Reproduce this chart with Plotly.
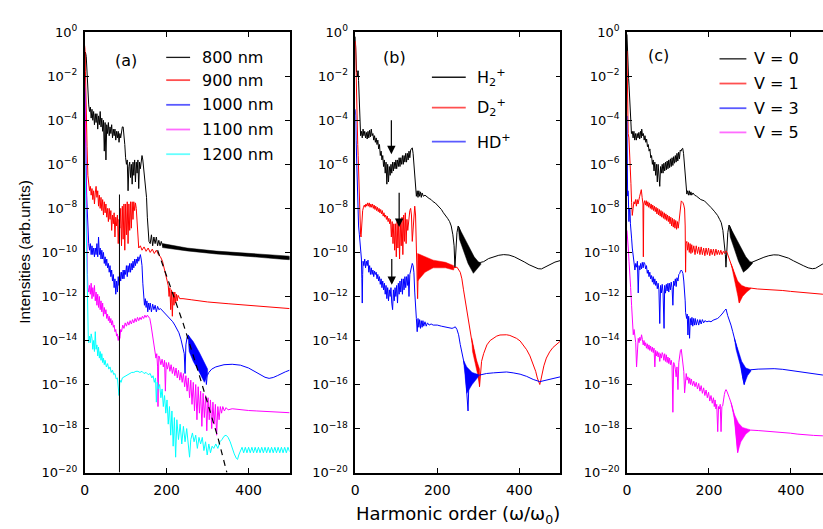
import plotly.graph_objects as go

# ---------------------------------------------------------------------------
# Harmonic spectra, stored as (harmonic order, log10 intensity) pairs
# ---------------------------------------------------------------------------

# ----- panel (a): wavelength dependence -----
A_800 = [(0,-1.6),(2,-0.9),(4,-1.1),(6,-1.9),(8,-2.8),(10,-3.3),(12,-3.6),(14,-3.4),(16,-3.9),(18,-3.5),
         (20,-4.0),(22,-3.6),(24,-4.2),(26,-3.7),(28,-4.1),(30,-3.7),(32,-4.4),(34,-3.8),(36,-4.2),(38,-3.6),
         (40,-4.3),(42,-3.9),(44,-4.5),(46,-4.0),(48,-5.4),(50,-4.1),(52,-5.8),(54,-4.2),(56,-4.6),(58,-4.1),
         (60,-4.7),(62,-4.3),(64,-4.6),(66,-4.2),(68,-4.8),(70,-4.4),(72,-4.7),(74,-4.4),(76,-4.9),(78,-4.5),
         (80,-4.8),(82,-4.5),(84,-5.0),(86,-4.6),(88,-4.8),(90,-4.4),(92,-4.3),(94,-4.3),(96,-4.6),(98,-5.1),
         (100,-5.7),(102,-6.0),(104,-5.8),(106,-7.2),(108,-6.1),(110,-5.9),(112,-6.6),(114,-6.0),(116,-6.9),
         (118,-5.9),(120,-6.5),(122,-5.8),(124,-6.8),(126,-5.9),(128,-6.4),(130,-5.8),(132,-7.1),(134,-5.9),
         (136,-6.2),(138,-5.7),(140,-5.6),(142,-5.8),(145,-6.3),(148,-6.9),(151,-7.5),(153,-8.4),(155,-9.1),
         (157,-9.5),(160,-9.6),(163,-9.2),(166,-9.7),(169,-9.3),(172,-9.6),(175,-9.3),(178,-9.7),(181,-9.45),
         (184,-9.7),(187,-9.5),(190,-9.7),(195,-9.7),(250,-9.86),(321,-10.0),(400,-10.12),(482,-10.24),(500,-10.26)]
A_800_UP = [(190,-9.6),(250,-9.8),(321,-9.94),(400,-10.05),(482,-10.15),(500,-10.17)]
A_800_LO = [(190,-9.78),(250,-9.93),(321,-10.07),(400,-10.18),(482,-10.31),(500,-10.33)]

A_900 = [(0,-0.6),(1,-0.8),(2,-1.8),(3,-3.2),(4,-4.2),(5,-4.4),(6,-5.2),(8,-6.5),(10,-7.1),(12,-7.2),(14,-7.0),
         (16,-7.4),(18,-7.1),(20,-7.6),(22,-7.2),(24,-7.8),(26,-7.3),(28,-7.0),(30,-7.5),(32,-7.2),(34,-7.9),
         (36,-7.4),(38,-8.0),(40,-7.5),(42,-8.1),(44,-7.6),(46,-8.3),(48,-7.7),(50,-8.2),(52,-7.8),(54,-8.4),
         (56,-8.0),(58,-8.6),(60,-8.0),(62,-8.5),(64,-8.1),(66,-9.0),(68,-8.3),(70,-8.7),(72,-8.2),(74,-9.3),
         (76,-8.4),(78,-8.8),(80,-8.3),(82,-9.6),(84,-8.5),(86,-8.9),(88,-8.0),(90,-9.7),(92,-7.9),(94,-9.4),
         (96,-7.8),(98,-9.9),(100,-7.8),(102,-9.2),(104,-7.7),(106,-9.6),(108,-7.8),(110,-9.0),(112,-7.7),
         (114,-8.9),(116,-7.7),(118,-8.5),(120,-7.7),(122,-8.1),(124,-7.75),(126,-8.0),(128,-8.6),(130,-9.4),
         (132,-9.8),(136,-9.7),(140,-9.9),(145,-9.75),(150,-9.95),(155,-9.8),(160,-10.0),(165,-9.85),(170,-10.05),
         (175,-9.9),(180,-10.1),(185,-10.2),(190,-10.4),(195,-10.8),(200,-11.2),(204,-11.5),(206,-12.0),
         (208,-11.6),(210,-12.6),(212,-11.7),(214,-12.9),(216,-11.8),(218,-12.4),(220,-11.8),(222,-12.3),
         (224,-11.9),(226,-12.2),(228,-11.95),(232,-12.1),(240,-12.1),(260,-12.15),(300,-12.25),(350,-12.33),
         (400,-12.4),(450,-12.48),(500,-12.55)]

A_1000 = [(0,-2.5),(1,-2.9),(2,-4.5),(3,-6.3),(4,-6.8),(5,-7.4),(6,-7.9),(7,-8.6),(8,-9.3),(10,-9.6),(12,-9.9),
          (14,-9.6),(16,-10.1),(18,-9.7),(20,-10.1),(22,-9.8),(24,-10.2),(26,-9.8),(28,-10.1),(30,-9.6),(32,-10.2),
          (34,-9.3),(36,-10.1),(38,-9.8),(40,-10.3),(42,-9.9),(44,-10.3),(46,-10.0),(48,-10.5),(50,-10.2),
          (52,-10.6),(54,-10.3),(56,-10.7),(58,-10.5),(60,-10.9),(62,-10.6),(64,-11.1),(66,-10.8),(68,-11.3),
          (70,-11.0),(72,-11.6),(74,-11.2),(76,-11.9),(78,-11.3),(80,-11.8),(82,-11.1),(84,-11.5),(86,-10.9),
          (88,-11.3),(90,-10.9),(92,-11.2),(94,-10.8),(96,-11.2),(98,-10.8),(100,-11.0),(102,-10.6),(104,-11.1),
          (106,-10.6),(108,-10.9),(110,-10.5),(112,-10.9),(114,-10.5),(116,-10.8),(118,-10.4),(120,-10.7),
          (122,-10.3),(124,-10.6),(126,-10.3),(128,-10.5),(130,-10.2),(132,-10.4),(134,-10.2),(136,-10.1),
          (138,-10.3),(140,-10.6),(142,-11.4),(144,-12.1),(146,-12.4),(148,-12.1),(150,-12.5),(152,-12.2),
          (154,-12.7),(156,-12.3),(158,-12.6),(160,-12.3),(163,-12.7),(166,-12.35),(169,-12.6),(172,-12.4),
          (175,-12.7),(178,-12.45),(181,-12.6),(185,-12.55),(190,-12.65),(195,-12.75),(200,-12.85),(205,-12.95),
          (210,-13.05),(215,-13.15),(220,-13.3),(225,-13.45),(230,-13.65),(235,-13.95),(240,-14.3),(243,-14.6),
          (245,-15.5),(247,-14.2),(250,-13.85),(253,-13.75),(256,-13.9),(260,-14.1),(270,-14.5),(280,-14.8),
          (290,-15.2),(295,-15.5),(297,-16.0),(299,-15.6),(303,-15.45),(310,-15.3),(320,-15.2),(340,-15.1),
          (360,-15.08),(380,-15.12),(400,-15.25),(420,-15.45),(440,-15.67),(450,-15.72),(460,-15.68),(470,-15.6),
          (480,-15.5),(490,-15.42),(500,-15.35)]
A_1000_UP = [(252,-13.74),(265,-14.05),(280,-14.55),(292,-15.0),(300,-15.3)]
A_1000_LO = [(255,-14.5),(265,-14.95),(280,-15.45),(292,-15.9),(300,-15.55)]

A_1100 = [(0,-2.0),(1,-2.7),(2,-4.0),(3,-6.0),(4,-8.0),(5,-9.3),(6,-10.2),(7,-11.0),(8,-11.6),(10,-11.8),
          (12,-11.5),(14,-11.9),(16,-11.4),(18,-12.1),(20,-11.6),(22,-12.0),(24,-11.5),(26,-12.2),(28,-11.8),
          (30,-12.4),(32,-11.9),(34,-12.5),(36,-12.0),(38,-12.6),(40,-12.2),(42,-12.7),(44,-12.3),(46,-12.9),
          (48,-12.5),(50,-12.8),(52,-12.6),(54,-13.0),(56,-12.8),(58,-13.1),(60,-12.9),(62,-13.2),(64,-13.0),
          (66,-13.3),(68,-13.1),(70,-13.4),(72,-13.3),(74,-13.6),(76,-13.5),(78,-13.8),(80,-13.7),(82,-14.0),
          (84,-13.8),(86,-13.9),(88,-13.5),(90,-13.6),(93,-13.3),(96,-13.45),(99,-13.2),(102,-13.35),(105,-13.15),
          (108,-13.3),(111,-13.1),(114,-13.25),(117,-13.05),(120,-13.2),(123,-13.0),(126,-13.15),(129,-12.95),
          (132,-13.1),(135,-12.95),(138,-13.05),(141,-12.9),(144,-13.0),(147,-12.85),(150,-12.95),(153,-12.85),
          (156,-12.95),(159,-13.0),(162,-13.3),(165,-13.7),(168,-14.0),(171,-14.5),(174,-14.8),(176,-14.6),
          (178,-15.2),(179,-17.0),(181,-14.7),(183,-14.8),(186,-15.1),(189,-14.85),(192,-15.2),(195,-14.9),
          (197,-16.3),(199,-15.0),(202,-15.3),(205,-15.0),(208,-15.4),(211,-15.1),(214,-15.5),(217,-15.2),
          (220,-15.6),(223,-15.25),(226,-15.7),(229,-15.35),(232,-15.8),(235,-15.45),(238,-15.9),(241,-15.5),
          (244,-16.1),(247,-15.6),(250,-16.3),(253,-15.7),(256,-16.6),(259,-15.8),(262,-16.9),(265,-15.9),
          (268,-17.2),(271,-16.0),(274,-17.6),(277,-16.1),(280,-17.3),(283,-16.3),(286,-17.9),(289,-16.4),
          (292,-17.5),(295,-16.5),(298,-18.1),(301,-16.6),(304,-17.6),(307,-16.7),(310,-18.0),(313,-16.8),
          (316,-17.8),(319,-16.9),(322,-18.3),(325,-17.0),(328,-17.6),(331,-17.0),(334,-17.3),(337,-17.0),
          (341,-17.2),(345,-17.05),(350,-17.15),(360,-17.1),(380,-17.15),(400,-17.18),(420,-17.2),(440,-17.22),
          (460,-17.24),(480,-17.26),(500,-17.28)]

A_1200 = [(0,-5.0),(1,-6.0),(2,-7.8),(3,-9.2),(4,-10.2),(5,-11.0),(6,-12.0),(7,-12.8),(8,-13.5),(9,-13.9),
          (10,-14.1),(12,-13.8),(14,-14.1),(16,-13.7),(18,-13.9),(20,-14.4),(22,-14.0),(24,-14.5),(26,-13.6),
          (28,-14.4),(30,-14.2),(32,-14.7),(34,-14.3),(36,-14.8),(38,-14.5),(40,-14.9),(42,-14.6),(44,-15.0),
          (46,-14.8),(48,-15.1),(50,-14.9),(53,-15.2),(56,-15.05),(59,-15.3),(62,-15.2),(65,-15.45),(68,-15.35),
          (71,-15.55),(74,-15.5),(77,-15.75),(80,-15.7),(82,-16.0),(84,-16.5),(86,-15.8),(89,-15.9),(92,-15.7),
          (96,-15.65),(100,-15.6),(105,-15.55),(110,-15.5),(115,-15.45),(120,-15.45),(125,-15.4),(130,-15.4),
          (135,-15.45),(140,-15.4),(145,-15.5),(150,-15.45),(155,-15.55),(160,-15.5),(164,-15.7),(167,-15.6),
          (170,-15.9),(173,-15.7),(175,-16.8),(177,-15.9),(180,-16.2),(183,-16.0),(186,-16.6),(189,-16.2),
          (192,-17.0),(195,-16.5),(198,-17.3),(201,-16.7),(204,-17.8),(207,-17.0),(210,-18.3),(213,-17.2),
          (216,-18.8),(219,-17.5),(222,-19.3),(225,-17.6),(229,-18.5),(233,-17.8),(237,-18.7),(241,-17.9),
          (245,-18.6),(249,-18.0),(253,-18.9),(256,-19.3),(259,-18.5),(263,-18.2),(267,-18.6),(271,-18.3),
          (275,-18.9),(279,-18.4),(283,-18.7),(287,-18.4),(291,-19.0),(295,-18.6),(299,-19.2),(303,-18.7),
          (307,-19.1),(311,-18.8),(315,-18.9),(320,-18.7),(325,-18.9),(330,-18.6),(335,-18.5),(340,-18.35),
          (345,-18.3),(350,-18.4),(355,-18.6),(360,-18.9),(365,-19.15),(370,-19.35),(373,-19.4),(376,-19.2),
          (380,-19.0),(384,-18.85),(388,-19.1),(392,-18.85),(396,-19.1),(400,-18.85),(404,-19.1),(408,-18.85),
          (412,-19.1),(416,-18.85),(420,-19.1),(424,-18.85),(428,-19.1),(432,-18.85),(436,-19.1),(440,-18.85),
          (444,-19.1),(448,-18.85),(452,-19.1),(456,-18.85),(460,-19.1),(464,-18.85),(468,-19.1),(472,-18.85),
          (476,-19.1),(480,-18.85),(484,-19.1),(488,-18.85),(492,-19.1),(496,-18.85),(500,-19.05)]

A_VLINE = [(85,-7.37),(85,-20.0)]
A_DASH = [(178,-9.9),(205,-11.3),(240,-13.2),(272,-15.1),(300,-16.8),(325,-18.4),(347,-20.0)]

# ----- panel (b): isotope dependence -----
B_H2 = [(0,-0.2),(1,-0.9),(2,-1.6),(3,-1.8),(4,-1.75),(5,-2.0),(6,-1.9),(7,-1.75),(8,-2.2),(9,-2.9),(10,-3.5),
        (11,-4.0),(12,-4.4),(13,-4.7),(15,-4.5),(17,-4.8),(19,-4.4),(21,-4.7),(23,-4.5),(25,-4.8),(27,-4.55),
        (29,-4.85),(31,-4.5),(33,-4.8),(35,-4.45),(37,-4.75),(39,-4.4),(41,-4.7),(43,-4.6),(45,-4.9),(47,-4.7),
        (49,-5.0),(51,-4.8),(53,-5.1),(55,-4.9),(57,-5.3),(59,-5.1),(61,-5.6),(63,-5.4),(65,-5.8),(67,-5.6),
        (69,-6.1),(71,-5.8),(73,-6.4),(75,-5.9),(77,-6.9),(79,-6.0),(81,-6.8),(83,-6.1),(85,-6.5),(87,-6.0),
        (89,-6.4),(91,-5.9),(93,-6.3),(95,-5.9),(97,-6.2),(99,-5.8),(101,-6.2),(103,-5.8),(105,-6.1),(107,-5.7),
        (109,-6.1),(111,-5.7),(113,-6.0),(115,-5.6),(117,-6.0),(119,-5.6),(121,-5.9),(123,-5.5),(125,-5.9),
        (127,-5.5),(129,-5.8),(131,-5.4),(133,-5.7),(135,-5.35),(137,-5.3),(139,-5.25),(141,-5.5),(143,-6.1),
        (145,-6.7),(147,-7.3),(149,-7.45),(151,-7.2),(153,-7.5),(155,-7.2),(157,-7.45),(159,-7.25),(161,-7.5),
        (163,-7.3),(166,-7.45),(170,-7.4),(175,-7.5),(180,-7.55),(185,-7.6),(190,-7.7),(195,-7.75),(200,-7.85),
        (205,-7.95),(210,-8.05),(215,-8.2),(220,-8.3),(225,-8.45),(230,-8.6),(234,-8.8),(238,-9.2),(241,-9.7),
        (243,-10.7),(245,-9.8),(248,-9.1),(251,-8.8),(254,-8.9),(260,-9.4),(270,-9.8),(280,-10.2),(288,-10.6),
        (295,-10.6),(300,-10.5),(306,-10.45),(313,-10.42),(325,-10.28),(337,-10.2),(350,-10.13),(362,-10.1),
        (375,-10.12),(388,-10.2),(400,-10.3),(412,-10.43),(424,-10.56),(436,-10.67),(446,-10.74),(454,-10.75),
        (462,-10.68),(474,-10.55),(487,-10.44),(500,-10.37)]
B_H2_UP = [(251,-8.8),(264,-9.25),(280,-9.8),(290,-10.2),(300,-10.42),(306,-10.48)]
B_H2_LO = [(254,-9.4),(264,-9.9),(275,-10.5),(288,-10.95),(296,-10.8),(306,-10.55)]

B_D2 = [(0,-0.4),(1,-0.7),(2,-1.8),(3,-3.2),(4,-4.2),(5,-4.9),(6,-5.1),(7,-5.6),(8,-6.4),(9,-7.1),(10,-7.7),
        (11,-8.3),(12,-8.8),(13,-9.2),(14,-9.3),(15,-9.0),(16,-8.6),(17,-8.3),(18,-8.1),(20,-7.95),(22,-7.85),
        (24,-7.95),(26,-7.8),(28,-7.9),(30,-7.75),(32,-7.9),(34,-7.75),(36,-7.95),(38,-7.8),(40,-7.95),(42,-7.8),
        (44,-8.0),(46,-7.85),(48,-8.05),(50,-7.9),(52,-8.1),(54,-7.95),(56,-8.15),(58,-8.0),(60,-8.2),(62,-8.05),
        (64,-8.25),(66,-8.1),(68,-8.35),(70,-8.2),(72,-8.4),(74,-8.3),(76,-8.5),(78,-8.35),(80,-8.6),(82,-8.45),
        (84,-8.7),(86,-8.5),(88,-9.3),(90,-8.6),(92,-9.6),(94,-8.7),(96,-9.9),(98,-8.7),(100,-10.2),(102,-8.6),
        (104,-9.8),(106,-8.5),(108,-10.3),(110,-8.6),(112,-9.7),(114,-8.4),(116,-10.1),(118,-8.3),(120,-9.5),
        (122,-8.2),(124,-9.6),(126,-8.5),(128,-9.0),(130,-8.6),(133,-8.1),(135,-8.0),(137,-8.3),(139,-9.5),
        (141,-9.0),(143,-8.1),(145,-7.9),(147,-8.3),(149,-9.5),(150,-10.2),(152,-12.1),(154,-10.4),(157,-10.9),
        (160,-10.3),(163,-10.8),(166,-10.35),(169,-10.7),(172,-10.35),(175,-10.65),(178,-10.4),(181,-10.6),
        (185,-10.42),(190,-10.55),(200,-10.45),(210,-10.5),(220,-10.55),(230,-10.6),(240,-10.7),(248,-10.67),
        (256,-10.9),(260,-11.2),(264,-11.7),(268,-12.2),(272,-12.7),(276,-13.2),(280,-13.6),(284,-14.0),
        (288,-14.35),(292,-14.7),(296,-15.05),(299,-15.3),(301,-15.5),(303,-16.1),(305,-15.4),(308,-14.95),
        (313,-14.6),(321,-14.2),(329,-14.0),(337,-13.88),(345,-13.8),(353,-13.75),(361,-13.73),(369,-13.74),
        (377,-13.77),(385,-13.82),(393,-13.9),(402,-14.02),(410,-14.2),(418,-14.42),(426,-14.7),(434,-15.06),
        (440,-15.4),(444,-15.7),(448,-15.95),(450,-16.0),(452,-15.85),(455,-15.55),(460,-15.15),(466,-14.8),
        (474,-14.52),(482,-14.32),(490,-14.18),(500,-14.03)]
B_D2_UP = [(152,-10.05),(170,-10.2),(190,-10.35),(220,-10.45),(240,-10.6)]
B_D2_LO = [(152,-11.3),(170,-10.9),(190,-10.7),(220,-10.7),(240,-10.8)]
B_D2_UP2 = [(284,-13.9),(296,-14.9),(303,-15.3)]
B_D2_LO2 = [(286,-14.5),(298,-15.5),(303,-16.0)]

B_HD = [(0,-3.5),(1,-3.8),(2,-4.9),(3,-5.7),(4,-6.6),(5,-7.6),(6,-8.2),(7,-8.6),(8,-8.8),(10,-9.2),(12,-9.6),
        (13,-9.9),(15,-10.3),(16,-11.2),(17,-12.3),(18,-11.0),(19,-10.4),(21,-10.6),(23,-10.3),(25,-10.7),
        (27,-10.4),(29,-10.6),(31,-10.35),(33,-10.9),(35,-10.6),(37,-11.0),(39,-10.7),(41,-11.0),(43,-10.8),
        (45,-11.1),(47,-10.85),(49,-11.0),(51,-10.9),(53,-11.2),(55,-11.0),(57,-11.3),(59,-11.1),(61,-11.45),
        (63,-11.2),(65,-11.6),(67,-11.3),(69,-11.7),(71,-11.4),(73,-11.9),(75,-11.5),(77,-12.1),(79,-11.6),
        (81,-12.2),(83,-11.7),(85,-12.0),(87,-11.6),(89,-12.3),(91,-12.6),(93,-11.7),(95,-12.2),(97,-11.6),
        (99,-12.0),(101,-11.5),(103,-12.3),(105,-11.4),(107,-11.9),(109,-11.3),(111,-11.8),(113,-11.2),
        (115,-11.9),(117,-11.2),(119,-11.7),(121,-11.1),(123,-11.6),(125,-11.1),(127,-11.5),(129,-11.0),
        (131,-12.0),(133,-11.0),(135,-10.8),(137,-10.6),(139,-10.5),(141,-10.6),(143,-10.9),(145,-11.8),
        (147,-12.7),(149,-13.0),(151,-13.6),(153,-13.0),(155,-13.4),(157,-13.05),(159,-13.45),(161,-13.1),
        (163,-13.4),(165,-13.1),(167,-13.35),(170,-13.15),(173,-13.35),(176,-13.2),(180,-13.3),(185,-13.25),
        (190,-13.3),(200,-13.3),(210,-13.35),(220,-13.4),(230,-13.45),(236,-13.45),(240,-13.42),(244,-13.38),
        (248,-13.5),(252,-13.74),(256,-14.18),(260,-14.5),(264,-14.9),(268,-15.3),(271,-16.0),(273,-16.4),
        (275,-17.2),(277,-16.0),(280,-15.7),(284,-15.9),(288,-15.6),(292,-15.75),(296,-15.55),(301,-15.58),
        (310,-15.53),(320,-15.5),(337,-15.47),(350,-15.44),(369,-15.43),(385,-15.47),(402,-15.53),(418,-15.63),
        (434,-15.77),(450,-15.87),(466,-15.8),(482,-15.72),(500,-15.65)]
B_HD_UP = [(264,-14.9),(272,-15.2),(285,-15.45),(300,-15.55)]
B_HD_LO = [(268,-15.5),(272,-16.4),(285,-16.0),(300,-15.65)]

B_ARROWS = [(88,-3.93,-5.54),(107,-7.22,-8.84),(89,-10.23,-11.47)]   # (order, tail, head)

# ----- panel (c): vibrational-state dependence -----
C_V0 = [(0,-0.1),(1,-1.0),(2,-1.7),(3,-1.8),(4,-2.1),(5,-2.4),(6,-2.9),(7,-3.4),(8,-3.8),(9,-4.1),(10,-4.4),
        (11,-4.6),(13,-4.5),(15,-4.8),(17,-4.5),(19,-4.9),(21,-4.6),(23,-4.9),(25,-4.6),(27,-4.8),(29,-4.55),
        (31,-4.85),(33,-4.5),(35,-4.8),(36,-4.4),(38,-4.7),(40,-4.6),(42,-4.9),(44,-4.7),(46,-5.0),(48,-4.85),
        (50,-5.2),(52,-5.1),(54,-5.4),(56,-5.3),(58,-5.7),(60,-5.6),(62,-6.0),(64,-5.8),(66,-6.3),(68,-5.9),
        (70,-6.5),(72,-6.0),(74,-6.8),(76,-6.0),(78,-6.9),(80,-7.0),(82,-6.1),(84,-6.4),(86,-6.0),(88,-6.4),
        (90,-5.95),(92,-6.3),(94,-5.9),(96,-6.25),(98,-5.85),(100,-6.2),(102,-5.8),(104,-6.15),(106,-5.75),
        (108,-6.1),(110,-5.7),(112,-6.05),(114,-5.65),(116,-5.95),(118,-5.6),(120,-5.9),(122,-5.5),(124,-5.85),
        (126,-5.45),(128,-5.75),(130,-5.35),(132,-5.4),(134,-5.3),(136,-5.27),(138,-5.5),(140,-6.0),(142,-6.6),
        (144,-7.1),(146,-7.35),(148,-7.2),(150,-7.4),(152,-7.2),(154,-7.4),(156,-7.25),(158,-7.4),(161,-7.3),
        (165,-7.4),(170,-7.45),(175,-7.55),(180,-7.6),(189,-7.66),(197,-7.8),(205,-7.96),(213,-8.13),(221,-8.32),
        (226,-8.5),(230,-8.65),(234,-9.0),(237,-9.5),(240,-10.1),(241.5,-10.67),(243,-9.9),(246,-9.1),
        (249,-8.76),(252,-8.85),(258,-9.2),(268,-9.6),(278,-10.0),(286,-10.45),(292,-10.6),(298,-10.5),
        (304,-10.45),(310,-10.42),(322,-10.3),(334,-10.22),(346,-10.15),(358,-10.11),(370,-10.12),(382,-10.18),
        (394,-10.26),(406,-10.38),(418,-10.5),(430,-10.6),(442,-10.7),(452,-10.74),(460,-10.72),(470,-10.6),
        (478,-10.52)]
C_V0_UP = [(249,-8.76),(262,-9.2),(278,-9.75),(290,-10.2),(300,-10.42),(306,-10.45)]
C_V0_LO = [(252,-9.3),(262,-9.85),(272,-10.4),(284,-10.9),(294,-10.75),(306,-10.5)]

C_V1 = [(0,-0.85),(1,-2.5),(1.6,-4.5),(3,-4.6),(4.8,-4.8),(6,-5.2),(7.3,-5.7),(8.5,-6.3),(9.7,-6.86),
        (11.3,-7.74),(13,-8.32),(15,-8.0),(17,-7.7),(19,-7.8),(21,-7.6),(23,-7.9),(25,-7.6),(27,-7.8),(29,-7.5),
        (31,-7.45),(33,-7.3),(35,-7.15),(37,-7.5),(39,-7.8),(40,-10.2),(41,-7.8),(43,-7.65),(45,-7.85),
        (47,-7.65),(49,-7.9),(51,-7.7),(53,-7.95),(55,-7.75),(57,-8.0),(59,-7.8),(61,-8.05),(63,-7.85),
        (65,-8.1),(67,-7.9),(69,-8.15),(71,-7.95),(73,-8.25),(75,-8.0),(77,-8.3),(79,-8.05),(81,-8.35),
        (83,-8.1),(85,-8.4),(87,-8.15),(89,-8.45),(91,-8.2),(93,-8.5),(95,-8.25),(97,-8.55),(99,-8.3),(101,-8.6),
        (103,-8.35),(105,-8.7),(107,-8.4),(109,-8.8),(111,-8.45),(113,-8.85),(115,-8.5),(117,-8.9),(119,-8.55),
        (121,-8.95),(123,-8.6),(125,-8.9),(127,-8.6),(129,-8.3),(131,-7.8),(132.5,-7.66),(134.5,-7.7),
        (136.6,-7.74),(138.6,-7.85),(140.6,-8.03),(142,-8.8),(143,-10.9),(144,-9.6),(146,-9.5),(148,-9.9),
        (150,-9.55),(152,-10.0),(154,-9.6),(156,-10.05),(158,-9.65),(160,-10.0),(163,-9.7),(166,-10.1),
        (169,-9.7),(172,-10.05),(175,-9.75),(178,-10.1),(181,-9.75),(184,-10.1),(187,-9.8),(190,-10.15),
        (193,-9.8),(196,-10.1),(199,-9.8),(202,-10.15),(205,-9.85),(208,-10.1),(211,-9.85),(214,-10.15),
        (217,-9.85),(220,-10.1),(223,-9.9),(226,-10.1),(229,-9.9),(232,-10.1),(235,-9.95),(238,-10.05),
        (240,-9.95),(241.6,-9.93),(244,-10.0),(248,-10.2),(253.7,-10.52),(258,-10.75),(262,-11.0),(266,-11.2),
        (270,-11.4),(274,-12.28),(276,-11.5),(280,-11.9),(284,-11.55),(288,-11.75),(292,-11.6),(296,-11.65),
        (302,-11.62),(318,-11.66),(340,-11.68),(359,-11.69),(380,-11.73),(399,-11.77),(420,-11.8),(440,-11.84),
        (460,-11.87),(478,-11.9)]
C_V1_UP = [(254,-10.52),(262,-10.95),(270,-11.3),(280,-11.5),(290,-11.58),(302,-11.62)]
C_V1_LO = [(262,-11.2),(268,-11.8),(274,-12.3),(282,-12.0),(292,-11.8),(302,-11.65)]

C_V3 = [(0,-3.8),(0.5,-5.5),(1,-6.86),(1.6,-7.44),(2.4,-7.2),(3.2,-7.3),(4,-8.0),(4.8,-8.6),(6,-8.0),
        (7.3,-8.03),(8.5,-8.7),(9.7,-8.9),(11.3,-9.35),(13,-9.8),(15.4,-10.1),(17,-10.5),(19.4,-10.8),
        (21.4,-10.5),(23.4,-10.67),(25.5,-10.4),(27.5,-11.84),(29.5,-10.6),(31.5,-10.8),(33.5,-10.5),
        (35.5,-10.75),(37.5,-10.45),(39.5,-10.7),(41.5,-10.45),(43.6,-10.52),(45.6,-10.75),(47.6,-10.6),
        (49.6,-10.95),(51.7,-10.8),(53.7,-11.1),(55.7,-10.9),(57.7,-11.2),(60,-11.05),(62,-11.35),(64,-11.1),
        (66,-11.45),(68,-11.2),(70,-11.5),(72,-11.3),(74,-11.65),(76,-11.4),(78,-11.7),(80,-13.23),(82,-11.5),
        (84,-11.84),(86,-11.45),(88,-11.8),(90.5,-13.45),(92,-11.5),(94,-11.85),(96,-11.45),(98,-11.75),
        (100,-11.4),(102,-11.8),(104,-11.4),(106,-11.7),(108,-11.35),(110,-11.6),(112,-12.4),(114,-11.3),
        (116,-11.5),(118,-11.2),(120,-11.55),(122,-11.15),(124.4,-11.3),(126.5,-11.0),(128.5,-10.96),
        (130.5,-10.85),(132.5,-10.8),(134.5,-10.85),(136.6,-10.96),(138.6,-11.3),(140.6,-11.69),(142,-12.2),
        (143,-12.72),(145.5,-13.0),(147,-12.8),(148.7,-13.75),(150.5,-12.9),(152.7,-13.9),(154.5,-13.0),
        (156.5,-13.3),(158.5,-12.95),(160.5,-13.35),(162.5,-13.0),(164.5,-13.3),(166.5,-13.0),(169,-13.3),
        (172,-13.05),(175,-13.3),(178,-13.05),(181,-13.25),(184,-13.05),(187,-13.2),(190,-13.1),(195,-13.15),
        (200,-13.12),(205,-13.15),(210,-13.08),(215,-13.05),(221,-13.0),(226,-12.92),(230,-12.85),(234,-12.75),
        (237.6,-12.65),(241.6,-12.57),(245.7,-12.87),(249.7,-13.05),(253.7,-13.3),(258,-13.6),(261.8,-13.9),
        (266,-14.2),(270,-14.48),(274,-14.8),(278,-15.06),(282,-15.65),(286,-16.0),(290,-15.5),(294,-15.36),
        (298,-15.45),(302,-15.33),(320,-15.3),(340,-15.29),(359,-15.28),(380,-15.31),(399,-15.36),(420,-15.43),
        (440,-15.5),(460,-15.54),(478,-15.57)]
C_V3_UP = [(262,-13.9),(270,-14.4),(280,-14.95),(290,-15.25),(302,-15.33)]
C_V3_LO = [(266,-14.4),(276,-15.1),(286,-16.0),(294,-15.6),(302,-15.4)]

C_V5 = [(0,-9.0),(1,-9.5),(3.2,-9.8),(5,-10.4),(7.3,-10.96),(9,-11.6),(11.3,-12.4),(13.5,-13.1),(15.4,-13.74),
        (17.4,-13.5),(19.4,-13.9),(21.4,-14.1),(23.4,-15.2),(25.5,-14.1),(27.5,-13.9),(29.5,-14.1),(31.5,-13.85),
        (33.5,-14.0),(35.6,-13.74),(37.6,-13.95),(39.6,-14.2),(41.6,-14.0),(43.6,-14.25),(45.6,-14.1),
        (47.6,-14.35),(49.6,-14.15),(51.7,-14.4),(53.7,-14.2),(55.7,-14.45),(57.7,-14.25),(60,-14.5),(62,-14.3),
        (64,-14.55),(66,-14.35),(68,-15.2),(70,-14.45),(72,-14.7),(74,-14.5),(76,-14.75),(78,-14.55),(80,-14.95),
        (82,-14.6),(84,-14.8),(86,-14.55),(88,-14.65),(90,-14.9),(92,-14.6),(94,-14.95),(96,-14.65),(98,-15.0),
        (100,-14.75),(102,-15.05),(104,-14.8),(106,-15.1),(108,-14.9),(110,-15.15),(112,-17.26),(114,-15.0),
        (116,-15.1),(118,-15.3),(120,-15.65),(122,-15.2),(124.4,-16.23),(126.5,-15.0),(128.5,-14.62),
        (130.5,-14.45),(132.5,-14.4),(134.5,-14.7),(136.6,-15.06),(138.6,-15.4),(140.6,-16.38),(142.6,-15.6),
        (144.6,-15.5),(146.6,-15.8),(148.7,-15.65),(151,-15.95),(153,-15.7),(155,-16.0),(157,-15.75),(160,-16.05),
        (163,-15.85),(166,-16.1),(169,-15.9),(172,-16.2),(175,-15.95),(178,-16.3),(181,-16.05),(184,-16.4),
        (187,-16.15),(190,-16.5),(193,-16.25),(196,-16.6),(199,-16.35),(202,-16.75),(205,-16.5),(208,-16.85),
        (211,-16.6),(213,-17.0),(215,-16.7),(217,-17.11),(219,-16.9),(221.4,-18.14),(223.4,-17.0),(225.5,-17.11),
        (227.5,-16.9),(229.5,-18.14),(231.5,-17.0),(233.5,-16.97),(235.5,-16.6),(237.6,-16.45),(239.6,-16.3),
        (241.6,-16.23),(243.6,-16.3),(245.7,-16.38),(249.7,-16.6),(253.7,-16.82),(257.7,-17.1),(261.8,-17.41),
        (264,-17.8),(266,-18.28),(268,-18.7),(270,-19.09),(272,-18.8),(274,-18.58),(276,-18.3),(278,-17.99),
        (282,-18.1),(286,-18.07),(294,-18.1),(302,-18.07),(320,-18.09),(334.5,-18.11),(350,-18.12),(367,-18.14),
        (383,-18.17),(399,-18.21),(415,-18.25),(431.5,-18.28),(455,-18.31),(478,-18.33)]
C_V5_UP = [(254,-16.82),(262,-17.35),(272,-17.75),(282,-17.95),(300,-18.05)]
C_V5_LO = [(262,-17.6),(270,-19.09),(278,-18.6),(290,-18.25),(300,-18.1)]

# legend entries and axis ticks
LEG_A = ["800 nm", "900 nm", "1000 nm", "1100 nm", "1200 nm"]
LEG_B = ["H<sub>2</sub><sup>+</sup>", "D<sub>2</sub><sup>+</sup>", "HD<sup>+</sup>"]
LEG_C = ["V = 0", "V = 1", "V = 3", "V = 5"]
PANEL_TAGS = ["(a)", "(b)", "(c)"]
Y_TICK_EXP = [0, -2, -4, -6, -8, -10, -12, -14, -16, -18, -20]
X_TICKS = [0, 200, 400]

# ---------------------------------------------------------------------------
W, H = 823, 529
BLACK, RED, BLUE, MAG, CYAN = "#000000", "#ff0000", "#0000ff", "#ff00ff", "#00ffff"
LEG_COL = {BLACK: "#1a1a1a", RED: "#ff5050", BLUE: "#5a5aff", MAG: "#ff6cff", CYAN: "#66ffff"}
FONT = "DejaVu Sans"

# plot-area placement in pixels: (left, right) per panel, common top/bottom
PANELS = [(81, 287), (353, 559), (626, 823)]
TOP, BOT = 24, 479


def fx(p):
    return p / W


def fy(p):
    return 1 - p / H


fig = go.Figure()


def curve(pts, color, k, width=1.0, dash=None):
    fig.add_trace(go.Scatter(
        x=[p[0] for p in pts], y=[10 ** p[1] for p in pts], mode="lines",
        line=dict(color=color, width=width, dash=dash),
        xaxis="x" if k == 1 else f"x{k}", yaxis="y" if k == 1 else f"y{k}",
        showlegend=False, hoverinfo="skip"))


def band(up, lo, color, k):
    poly = up + lo[::-1] + up[:1]
    fig.add_trace(go.Scatter(
        x=[p[0] for p in poly], y=[10 ** p[1] for p in poly], mode="lines",
        fill="toself", fillcolor=color, line=dict(color=color, width=0.5),
        xaxis="x" if k == 1 else f"x{k}", yaxis="y" if k == 1 else f"y{k}",
        showlegend=False, hoverinfo="skip"))


# panel (a)
curve(A_800, BLACK, 1); band(A_800_UP, A_800_LO, BLACK, 1)
curve(A_900, RED, 1)
curve(A_1000, BLUE, 1); band(A_1000_UP, A_1000_LO, BLUE, 1)
curve(A_1100, MAG, 1)
curve(A_1200, CYAN, 1)
curve(A_VLINE, BLACK, 1)
curve(A_DASH, BLACK, 1, width=1.2, dash="6px,5px")

# panel (b)
curve(B_H2, BLACK, 2); band(B_H2_UP, B_H2_LO, BLACK, 2)
curve(B_D2, RED, 2); band(B_D2_UP, B_D2_LO, RED, 2); band(B_D2_UP2, B_D2_LO2, RED, 2)
curve(B_HD, BLUE, 2); band(B_HD_UP, B_HD_LO, BLUE, 2)

# panel (c)
curve(C_V0, BLACK, 3); band(C_V0_UP, C_V0_LO, BLACK, 3)
curve(C_V1, RED, 3); band(C_V1_UP, C_V1_LO, RED, 3)
curve(C_V3, BLUE, 3); band(C_V3_UP, C_V3_LO, BLUE, 3)
curve(C_V5, MAG, 3); band(C_V5_UP, C_V5_LO, MAG, 3)

tick_text = ["10<sup>%s%d</sup>" % ("\u2212" if e < 0 else "", abs(e)) for e in Y_TICK_EXP]

layout = dict(width=W, height=H, margin=dict(l=0, r=0, t=0, b=0),
              paper_bgcolor="white", plot_bgcolor="white", showlegend=False)
for i, (l, r) in enumerate(PANELS, start=1):
    sfx = "" if i == 1 else str(i)
    xmax = (r - l) / (PANELS[0][1] - PANELS[0][0]) * 500
    layout["xaxis" + sfx] = dict(
        domain=[fx(l), fx(r)], range=[0, xmax], anchor="y" + sfx,
        showline=True, linecolor="black", linewidth=1.5, mirror="ticks",
        ticks="inside", ticklen=5, tickwidth=1, tickcolor="black",
        tickvals=X_TICKS, showgrid=False, zeroline=False, ticklabelstandoff=4,
        tickfont=dict(family=FONT, size=14, color="black"))
    layout["yaxis" + sfx] = dict(
        domain=[fy(BOT), fy(TOP)], type="log", range=[-20, 0], anchor="x" + sfx,
        showline=True, linecolor="black", linewidth=1.5, mirror="ticks" if i < 3 else False,
        ticks="inside", ticklen=5, tickwidth=1, tickcolor="black",
        tickvals=[10.0 ** e for e in Y_TICK_EXP], ticktext=tick_text,
        showgrid=False, zeroline=False, ticklabelstandoff=3,
        tickfont=dict(family=FONT, size=13, color="black"))
fig.update_layout(**layout)

ann = []
shapes = []


def label(px, py, text, size=16, family=FONT, xanchor="left", yanchor="middle", angle=0):
    ann.append(dict(x=fx(px), y=fy(py), xref="paper", yref="paper", text=text, showarrow=False,
                    xanchor=xanchor, yanchor=yanchor, textangle=angle,
                    font=dict(family=family, size=size, color="black")))


def sample(x0, x1, py, color):
    shapes.append(dict(type="line", xref="paper", yref="paper", x0=fx(x0), x1=fx(x1), y0=fy(py), y1=fy(py),
                       line=dict(color=LEG_COL[color], width=1.8 if color != BLACK else 1.3)))


# panel tags
for (px, py), tag in zip([(123, 53), (392, 50), (658, 48.5)], PANEL_TAGS):
    label(px, py, tag, size=16, xanchor="center")

# legends
for py, txt, col in zip([50, 73.5, 99, 124.5, 150], LEG_A, [BLACK, RED, BLUE, MAG, CYAN]):
    sample(163, 187, py, col)
    label(197, py, txt)
for py, txt, col in zip([70.5, 102, 137], LEG_B, [BLACK, RED, BLUE]):
    sample(430, 464, py, col)
    label(473, py, txt)
for py, txt, col in zip([51.5, 77, 102.5, 127.5], LEG_C, [BLACK, RED, BLUE, MAG]):
    sample(719, 746, py, col)
    label(752, py, txt)

# axis titles
label(456, 508, "Harmonic order (\u03c9/\u03c9<sub>0</sub>)", size=18, xanchor="center", yanchor="top")
label(21, 251, "Intensities (arb.units)", size=15.5, family="Liberation Sans", xanchor="center", angle=-90)

# arrows in panel (b)
for xo, tail, head in B_ARROWS:
    ann.append(dict(x=xo, y=head, ax=xo, ay=tail, xref="x2", yref="y2", axref="x2", ayref="y2",
                    text="", showarrow=True, arrowhead=2, arrowsize=1.4, arrowwidth=1.2,
                    arrowcolor="black"))

fig.update_layout(annotations=ann, shapes=shapes)
fig.write_html("out.html")
